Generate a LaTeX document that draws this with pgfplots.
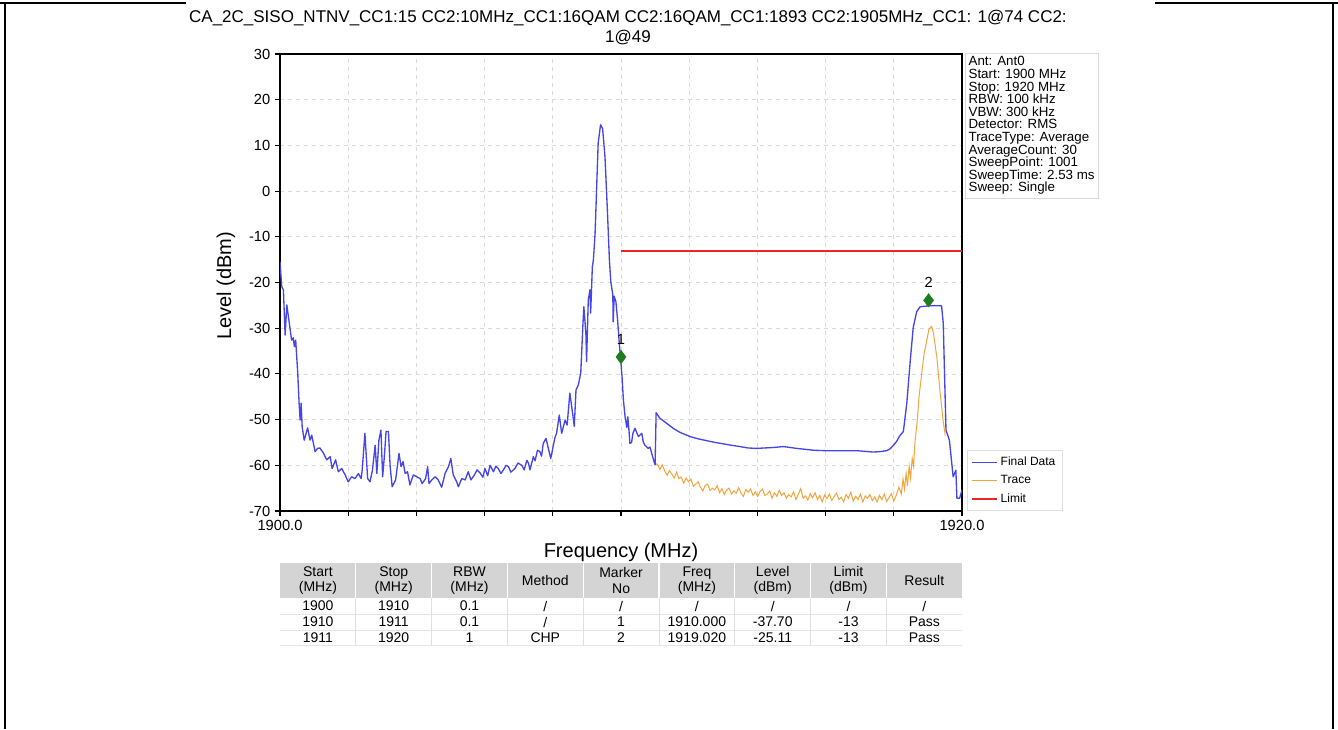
\documentclass[border=0pt]{standalone}
\usepackage{fontspec}
\setmainfont{Liberation Sans}
\usepackage{pgfplots}
\pgfplotsset{compat=1.18}

\definecolor{finalblue}{HTML}{4646E6}
\definecolor{traceorange}{HTML}{F5A33C}
\definecolor{limitred}{HTML}{F02424}
\definecolor{mkgreen}{HTML}{1E7D1E}
\definecolor{hdrgray}{HTML}{D4D4D4}

\begin{document}
\begin{tikzpicture}
% page = 1338 x 729 px, 1 px = 0.75pt
\useasboundingbox (0pt,0pt) rectangle (1003.5pt,-546.75pt);

\begin{axis}[
    at={(210pt,-383.25pt)}, anchor=south west,
    scale only axis, width=511.5pt, height=342.75pt,
    xmin=1900, xmax=1920, ymin=-70, ymax=30,
    xtick={1900,1902,...,1920},
    xticklabels={1900.0,{},{},{},{},{},{},{},{},{},1920.0},
    ytick={-70,-60,...,30},
    tick align=outside, tick pos=left,
    major tick length=3.75pt,
    tick style={black, line width=0.8pt},
    axis line style={black, line width=0.9pt},
    grid=major,
    grid style={gray!30, dashed, line width=0.5pt},
    /pgf/number format/assume math mode=true,
    tick label style={font=\fontsize{11}{13}\selectfont},
    legend style={at={(1.007,0)}, anchor=south west, draw=gray!25, fill=white,
        font=\fontsize{9}{10.5}\selectfont, row sep=1.8pt, inner sep=3pt,
        cells={anchor=west}},
    legend image code/.code={\draw[#1] (0pt,0pt) -- (18.75pt,0pt);},
]

% Trace (orange)
\addplot[traceorange, line width=0.75pt, mark=none, forget plot] coordinates {
(1911.00,-59.6)(1911.07,-59.8)(1911.14,-60.9)(1911.21,-59.9)(1911.28,-61.2)(1911.35,-62.2)
(1911.42,-61.2)(1911.49,-61.9)(1911.56,-62.8)(1911.63,-61.5)(1911.70,-62.9)(1911.77,-62.6)
(1911.84,-63.9)(1911.91,-62.8)(1911.98,-63.6)(1912.05,-63.0)(1912.12,-64.6)(1912.19,-64.1)
(1912.26,-63.6)(1912.33,-64.8)(1912.40,-65.6)(1912.47,-64.4)(1912.54,-64.1)(1912.61,-65.5)
(1912.68,-65.0)(1912.75,-65.4)(1912.82,-64.4)(1912.89,-66.0)(1912.96,-65.1)(1913.03,-66.4)
(1913.10,-65.4)(1913.17,-65.0)(1913.24,-66.3)(1913.31,-65.6)(1913.38,-66.1)(1913.45,-64.9)
(1913.52,-66.1)(1913.59,-66.8)(1913.66,-65.3)(1913.73,-65.9)(1913.80,-65.2)(1913.87,-66.6)
(1913.94,-65.8)(1914.01,-66.8)(1914.08,-65.7)(1914.15,-65.2)(1914.22,-66.6)(1914.29,-66.3)
(1914.36,-65.6)(1914.43,-67.2)(1914.50,-66.0)(1914.57,-66.8)(1914.64,-65.4)(1914.71,-66.6)
(1914.78,-66.0)(1914.85,-67.2)(1914.92,-66.4)(1914.99,-66.9)(1915.06,-65.8)(1915.13,-67.5)
(1915.20,-66.3)(1915.27,-65.1)(1915.34,-67.2)(1915.41,-66.7)(1915.48,-67.6)(1915.55,-66.2)
(1915.62,-67.1)(1915.69,-66.0)(1915.76,-67.5)(1915.83,-66.6)(1915.90,-68.0)(1915.97,-66.5)
(1916.04,-67.3)(1916.11,-66.3)(1916.18,-67.7)(1916.25,-66.8)(1916.32,-66.1)(1916.39,-67.5)
(1916.46,-67.0)(1916.53,-68.0)(1916.60,-66.4)(1916.67,-67.2)(1916.74,-65.9)(1916.81,-67.8)
(1916.88,-66.8)(1916.95,-67.5)(1917.02,-66.3)(1917.09,-68.0)(1917.16,-66.7)(1917.23,-67.2)
(1917.30,-66.4)(1917.37,-67.7)(1917.44,-66.9)(1917.51,-68.0)(1917.58,-66.6)(1917.65,-67.5)
(1917.72,-66.3)(1917.79,-67.9)(1917.86,-67.1)(1917.93,-66.2)(1918.00,-67.8)(1918.07,-66.6)
(1918.15,-64.8)(1918.22,-66.3)(1918.27,-63.0)(1918.31,-65.2)(1918.36,-61.8)(1918.40,-64.5)
(1918.45,-60.2)(1918.49,-62.8)(1918.54,-58.5)(1918.58,-60.2)(1918.62,-55.0)(1918.68,-50.8)
(1918.74,-45.0)(1918.82,-39.8)(1918.89,-35.5)(1918.97,-32.6)(1919.03,-30.2)(1919.11,-29.6)
(1919.16,-31.0)(1919.26,-36.2)(1919.35,-43.5)(1919.45,-50.5)(1919.51,-53.5)
};

% Final Data (blue)
\addplot[finalblue, line width=1pt, mark=none, line join=round] coordinates {
(1900.00,-15.4)(1900.05,-20.9)(1900.10,-21.6)(1900.15,-31.5)(1900.20,-24.9)(1900.26,-28.2)
(1900.34,-32.6)(1900.39,-32.1)(1900.42,-34.0)(1900.46,-32.6)(1900.52,-39.8)(1900.56,-46.4)
(1900.59,-50.1)(1900.62,-46.4)(1900.65,-51.6)(1900.71,-54.5)(1900.81,-51.8)(1900.88,-54.5)
(1900.93,-53.4)(1901.03,-57.0)(1901.10,-56.3)(1901.17,-56.2)(1901.27,-57.3)(1901.37,-58.8)
(1901.47,-58.1)(1901.53,-60.7)(1901.63,-58.8)(1901.71,-61.4)(1901.81,-60.7)(1901.91,-62.1)
(1902.00,-63.6)(1902.10,-62.5)(1902.20,-62.9)(1902.30,-61.8)(1902.38,-62.9)(1902.41,-61.1)
(1902.49,-53.0)(1902.57,-62.9)(1902.64,-63.6)(1902.71,-61.1)(1902.79,-55.6)(1902.84,-61.8)
(1902.90,-54.5)(1902.96,-52.3)(1903.01,-62.5)(1903.06,-58.1)(1903.11,-52.6)(1903.18,-52.6)
(1903.23,-60.3)(1903.29,-64.7)(1903.39,-63.2)(1903.49,-57.4)(1903.55,-60.3)(1903.61,-59.2)
(1903.67,-61.8)(1903.74,-61.4)(1903.81,-64.3)(1903.91,-62.1)(1904.01,-62.5)(1904.11,-62.9)
(1904.17,-64.0)(1904.27,-62.9)(1904.33,-60.3)(1904.37,-64.0)(1904.45,-63.2)(1904.55,-62.5)
(1904.64,-63.2)(1904.74,-64.8)(1904.84,-61.8)(1904.94,-60.3)(1905.01,-58.5)(1905.08,-62.1)
(1905.18,-63.6)(1905.23,-64.7)(1905.33,-62.9)(1905.43,-63.2)(1905.52,-61.4)(1905.60,-63.2)
(1905.70,-62.1)(1905.78,-61.0)(1905.87,-61.7)(1905.95,-62.6)(1906.01,-60.7)(1906.09,-62.3)
(1906.16,-60.0)(1906.26,-61.4)(1906.33,-60.2)(1906.40,-60.7)(1906.48,-61.8)(1906.55,-61.0)
(1906.63,-60.0)(1906.70,-60.3)(1906.77,-61.5)(1906.89,-60.7)(1906.98,-59.5)(1907.09,-60.0)
(1907.16,-61.0)(1907.24,-58.9)(1907.29,-59.6)(1907.33,-61.0)(1907.43,-58.1)(1907.48,-59.0)
(1907.55,-56.7)(1907.62,-57.0)(1907.67,-58.0)(1907.72,-55.2)(1907.80,-54.1)(1907.87,-56.3)
(1907.94,-58.5)(1908.01,-55.9)(1908.06,-54.0)(1908.11,-53.0)(1908.19,-49.0)(1908.26,-53.0)
(1908.36,-50.1)(1908.42,-51.2)(1908.50,-44.2)(1908.58,-48.6)(1908.63,-51.5)(1908.68,-43.5)
(1908.75,-42.4)(1908.82,-39.8)(1908.88,-29.7)(1908.91,-25.3)(1908.97,-31.1)(1908.99,-37.3)
(1909.04,-23.8)(1909.09,-21.6)(1909.11,-26.7)(1909.16,-16.5)(1909.19,-15.1)(1909.24,-9.2)
(1909.29,1.7)(1909.33,10.5)(1909.40,14.5)(1909.46,13.7)(1909.53,7.5)(1909.60,-4.1)
(1909.66,-15.1)(1909.70,-19.8)(1909.76,-22.7)(1909.77,-28.6)(1909.80,-23.0)(1909.85,-24.2)
(1909.90,-28.2)(1909.95,-33.3)(1910.00,-37.7)(1910.03,-40.6)(1910.07,-45.7)(1910.12,-49.4)
(1910.17,-51.7)(1910.20,-49.4)(1910.24,-53.0)(1910.26,-55.2)(1910.31,-55.0)(1910.35,-53.0)
(1910.41,-51.9)(1910.51,-53.7)(1910.61,-53.0)(1910.65,-54.8)(1910.70,-55.6)(1910.80,-56.3)
(1910.85,-56.0)(1910.90,-57.4)(1910.97,-59.2)(1911.00,-59.9)(1911.03,-48.5)(1911.14,-49.7)
(1911.32,-50.7)(1911.53,-51.9)(1911.73,-52.8)(1912.02,-53.7)(1912.26,-54.2)(1912.51,-54.6)
(1912.76,-55.0)(1913.00,-55.3)(1913.23,-55.6)(1913.49,-55.9)(1913.72,-56.2)(1913.98,-56.3)
(1914.22,-56.2)(1914.47,-56.1)(1914.76,-55.9)(1914.96,-56.1)(1915.15,-56.3)(1915.40,-56.5)
(1915.64,-56.7)(1916.01,-56.8)(1916.42,-56.8)(1916.91,-56.8)(1917.40,-57.1)(1917.60,-57.0)
(1917.79,-56.8)(1917.89,-56.4)(1917.99,-55.6)(1918.08,-54.8)(1918.17,-53.6)(1918.28,-52.6)
(1918.38,-46.5)(1918.48,-37.3)(1918.57,-29.8)(1918.67,-26.4)(1918.77,-25.3)(1919.06,-25.1)
(1919.40,-25.1)(1919.45,-28.9)(1919.50,-43.5)(1919.53,-52.3)(1919.63,-54.5)(1919.70,-59.6)
(1919.74,-62.5)(1919.82,-61.1)(1919.85,-67.2)(1919.93,-67.2)(1920.00,-65.4)
};
\addlegendentry{Final Data}
\addlegendimage{traceorange, line width=0.75pt}
\addlegendentry{Trace}

% Limit
\addplot[limitred, line width=1.5pt, mark=none] coordinates {(1910,-13)(1920,-13)};
\addlegendentry{Limit}

% markers
\addplot[forget plot, only marks, mark=diamond*, mark size=5pt,
    mark options={fill=mkgreen, draw=mkgreen}] coordinates {(1910.00,-36.3)(1919.02,-23.9)};
\node[font=\fontsize{11}{12}\selectfont, anchor=south, inner sep=0pt] at (axis cs:1910.00,-33.6) {1};
\node[font=\fontsize{11}{12}\selectfont, anchor=south, inner sep=0pt] at (axis cs:1919.02,-21.2) {2};
\end{axis}

\begin{scope}[x=0.75pt, y=-0.75pt]
% outer frame
\draw[black, line width=1.5pt] (0,3) -- (186,3);
\draw[black, line width=1.5pt] (1155,3) -- (1338,3);
\draw[black, line width=1.5pt] (5,3) -- (5,729);
\draw[black, line width=1.5pt] (1333,3) -- (1333,729);

% title
\node[align=center, font=\fontsize{12.75}{15}\selectfont] at (628,28)
  {CA\_2C\_SISO\_NTNV\_CC1:15 CC2:10MHz\_CC1:16QAM CC2:16QAM\_CC1:1893 CC2:1905MHz\_CC1: 1@74 CC2:\\1@49};

% axis labels
\node[font=\fontsize{15}{17}\selectfont] at (621,552) {Frequency (MHz)};
\node[font=\fontsize{15}{17}\selectfont, rotate=90] at (226,286) {Level (dBm)};

% info box
\node[anchor=north west, draw=gray!30, fill=white, inner sep=2.5pt, align=left,
      font=\fontsize{10}{9.45}\selectfont] at (965,53)
  {Ant: Ant0\\Start: 1900 MHz\\Stop: 1920 MHz\\RBW: 100 kHz\\VBW: 300 kHz\\Detector: RMS\\TraceType: Average\\AverageCount: 30\\SweepPoint: 1001\\SweepTime: 2.53 ms\\Sweep: Single};

% result table
\fill[hdrgray] (280,563) rectangle (962,598);
\foreach \i in {1,...,8} {
  \draw[white, line width=1pt] ({280+75.8*\i},563) -- ({280+75.8*\i},598);
  \draw[gray!25, line width=0.6pt] ({280+75.8*\i},598) -- ({280+75.8*\i},645);
}
\draw[gray!20, line width=0.6pt] (280,614) -- (962,614);
\draw[gray!20, line width=0.6pt] (280,630) -- (962,630);
\draw[gray!20, line width=0.6pt] (280,645) -- (962,645);
\foreach \t [count=\i from 0] in {{Start\\(MHz)},{Stop\\(MHz)},{RBW\\(MHz)},{Method},{Marker\\No},{Freq\\(MHz)},{Level\\(dBm)},{Limit\\(dBm)},{Result}}
  \node[align=center, font=\fontsize{10.5}{11.6}\selectfont] at ({317.9+75.8*\i},580.5) {\t};
\foreach \t [count=\i from 0] in {1900,1910,0.1,/,/,/,/,/,/}
  \node[font=\fontsize{10.5}{11.6}\selectfont] at ({317.9+75.8*\i},606) {\t};
\foreach \t [count=\i from 0] in {1910,1911,0.1,/,1,1910.000,-37.70,-13,Pass}
  \node[font=\fontsize{10.5}{11.6}\selectfont] at ({317.9+75.8*\i},622) {\t};
\foreach \t [count=\i from 0] in {1911,1920,1,CHP,2,1919.020,-25.11,-13,Pass}
  \node[font=\fontsize{10.5}{11.6}\selectfont] at ({317.9+75.8*\i},637.5) {\t};
\end{scope}
\end{tikzpicture}
\end{document}
